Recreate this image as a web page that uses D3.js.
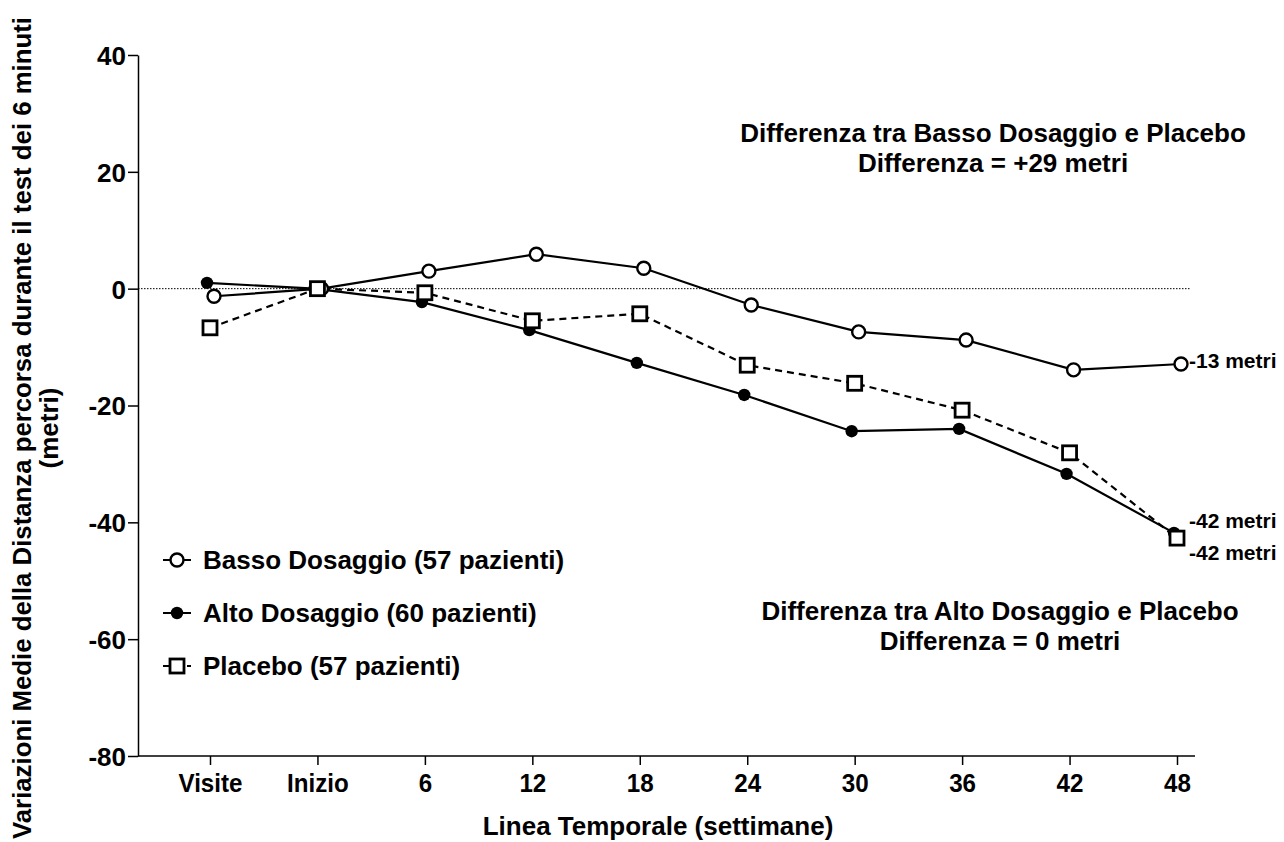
<!DOCTYPE html>
<meta charset="utf-8">
<title>Distanza percorsa - test dei 6 minuti</title>
<style>
body { margin: 0; background: #fff; }
svg text { font-family: "Liberation Sans", Arial, Helvetica, sans-serif; font-weight: bold; fill: #000; }
</style>
<body>
<script src="https://cdn.jsdelivr.net/npm/d3@7"></script>
<script>
'use strict';

// time points (categorical)
var visits = ["Visite", "Inizio", "6", "12", "18", "24", "30", "36", "42", "48"];
var yTicks = [40, 20, 0, -20, -40, -60, -80];

// mean change in walked distance (metri)
var basso   = [-1.3, 0, 3.0, 5.9, 3.5, -2.8, -7.4, -8.8, -13.9, -12.9];
var alto    = [1.0, 0, -2.3, -7.1, -12.7, -18.2, -24.4, -24.0, -31.7, -41.8];
var placebo = [-6.7, 0, -0.7, -5.5, -4.3, -13.1, -16.2, -20.8, -28.1, -42.7];

var seriesNames = ["Basso Dosaggio (57 pazienti)", "Alto Dosaggio (60 pazienti)", "Placebo (57 pazienti)"];
var endLabels = ["-13 metri", "-42 metri", "-42 metri"];

var series = [
  {name: seriesNames[0], values: basso, marker: "open", dash: null, nudge: 4},
  {name: seriesNames[1], values: alto, marker: "filled", dash: null, nudge: -3},
  {name: seriesNames[2], values: placebo, marker: "square", dash: "7,5", nudge: 0}
];

const W = 1284, H = 842;
const svg = d3.select("body").append("svg").attr("width", W).attr("height", H);

const x = d3.scalePoint().domain(visits).range([210, 1177]);
const y = d3.scaleLinear().domain([-80, 40]).range([756, 55]);
const xLeft = 138, xRight = 1195;

// zero reference
svg.append("line")
  .attr("x1", xLeft).attr("x2", 1190)
  .attr("y1", y(0)).attr("y2", y(0))
  .attr("stroke", "#000").attr("stroke-width", 1).attr("stroke-dasharray", "1.5,1.5");

// y axis
const yAxis = svg.append("g").attr("transform", "translate(" + xLeft + ",0)")
  .call(d3.axisLeft(y).tickValues(yTicks).tickFormat(d => String(d))
    .tickSize(10).tickPadding(2).tickSizeOuter(0));
yAxis.select(".domain").attr("stroke-width", 1.5);
yAxis.selectAll(".tick line").attr("stroke-width", 1.5);
yAxis.selectAll("text").attr("font-size", 26).attr("dy", "0.36em");

// x axis
const xAxis = svg.append("g").attr("transform", "translate(0," + y(-80) + ")")
  .call(d3.axisBottom(x).tickSize(9).tickPadding(0).tickSizeOuter(0));
xAxis.select(".domain").attr("d", "M" + xLeft + ",0H" + xRight).attr("stroke-width", 1.5);
xAxis.selectAll(".tick line").attr("stroke-width", 1.5);
xAxis.selectAll("text").attr("font-size", 26).attr("dy", null).attr("y", 36)
  .attr("transform", "scale(0.93,1)");

// axis titles
svg.append("text")
  .attr("x", 658).attr("y", 835).attr("text-anchor", "middle").attr("font-size", 26)
  .text("Linea Temporale (settimane)");

const yt = svg.append("text")
  .attr("transform", "translate(31,428) rotate(-90)")
  .attr("text-anchor", "middle").attr("font-size", 26);
yt.append("tspan").attr("x", 0).attr("dy", 0)
  .attr("textLength", 822).attr("lengthAdjust", "spacingAndGlyphs")
  .text("Variazioni Medie della Distanza percorsa durante il test dei 6 minuti");
yt.append("tspan").attr("x", 0).attr("dy", 27).text("(metri)");

// lines and markers
const line = d3.line().x((d, i) => x(visits[i])).y(d => y(d));

function drawMarker(g, type, cx, cy) {
  if (type === "open") {
    g.append("circle").attr("cx", cx).attr("cy", cy).attr("r", 6.5)
      .attr("fill", "#fff").attr("stroke", "#000").attr("stroke-width", 2.4);
  } else if (type === "filled") {
    g.append("circle").attr("cx", cx).attr("cy", cy).attr("r", 6.2).attr("fill", "#000");
  } else {
    g.append("rect").attr("x", cx - 7).attr("y", cy - 7).attr("width", 14).attr("height", 14)
      .attr("fill", "#fff").attr("stroke", "#000").attr("stroke-width", 2.8);
  }
}

series.forEach(function(s) {
  const g = svg.append("g").attr("transform", "translate(" + s.nudge + ",0)");
  g.append("path").datum(s.values)
    .attr("d", line).attr("fill", "none").attr("stroke", "#000").attr("stroke-width", 2.2)
    .attr("stroke-dasharray", s.dash);
});
[series[1], series[0], series[2]].forEach(function(s) {
  const g = svg.append("g").attr("transform", "translate(" + s.nudge + ",0)");
  s.values.forEach(function(v, i) { drawMarker(g, s.marker, x(visits[i]), y(v)); });
});

// end labels
const endY = [y(basso[9]) + 4, y(-39.8) + 7, y(-45.3) + 7];
endLabels.forEach(function(t, i) {
  svg.append("text").attr("x", 1189).attr("y", endY[i]).attr("font-size", 21).text(t);
});

// annotations
const notes = [
  {lines: ["Differenza tra Basso Dosaggio e Placebo", "Differenza = +29 metri"], cx: 993, y0: 142},
  {lines: ["Differenza tra Alto Dosaggio e Placebo", "Differenza = 0 metri"], cx: 1000, y0: 620}
];
notes.forEach(function(n) {
  n.lines.forEach(function(t, i) {
    svg.append("text").attr("x", n.cx).attr("y", n.y0 + i * 30)
      .attr("text-anchor", "middle").attr("font-size", 26).text(t);
  });
});

// legend
const legend = svg.append("g");
series.forEach(function(s, i) {
  const ly = 560 + i * 53;
  legend.append("line").attr("x1", 163).attr("x2", 191).attr("y1", ly).attr("y2", ly)
    .attr("stroke", "#000").attr("stroke-width", 2).attr("stroke-dasharray", s.dash);
  drawMarker(legend, s.marker, 177, ly);
  legend.append("text").attr("x", 203).attr("y", ly + 9).attr("font-size", 26).text(s.name);
});
</script>
</body>
